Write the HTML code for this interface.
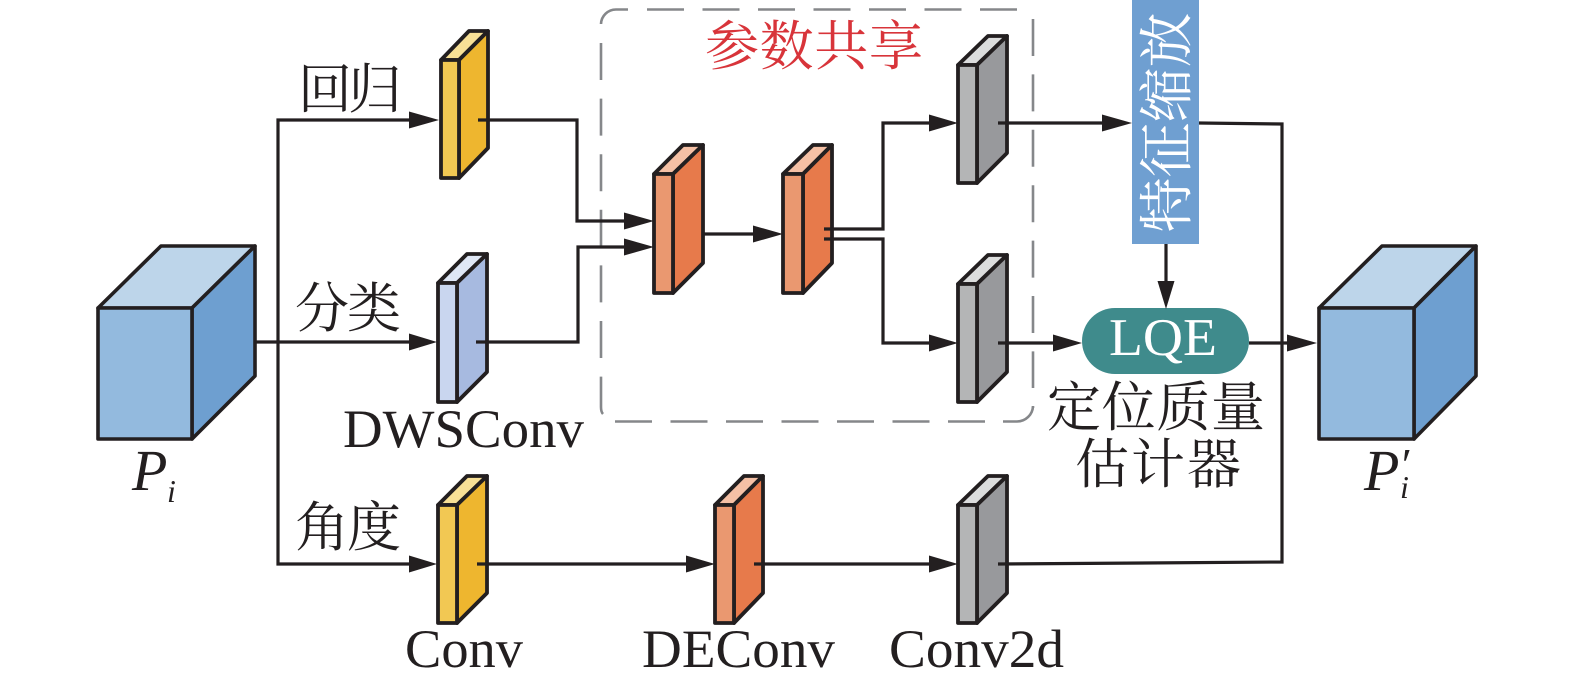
<!DOCTYPE html>
<html>
<head>
<meta charset="utf-8">
<style>
html,body{margin:0;padding:0;background:#fff;width:1575px;height:689px;overflow:hidden}
svg{display:block}
.s{font-family:"Liberation Serif","Noto Serif CJK SC",serif;fill:#231f20}
.c{font-family:"Noto Serif CJK SC","Liberation Serif",serif;fill:#231f20;font-size:54px}
</style>
</head>
<body>
<svg width="1575" height="689" viewBox="0 0 1575 689" xmlns="http://www.w3.org/2000/svg">
<rect width="1575" height="689" fill="#fff"/>

<!-- dashed frame -->
<g fill="none" stroke="#85878a" stroke-width="2.6">
<path d="M601 24 A15 15 0 0 1 616 9.5 H628"/>
<path d="M647 9.5 H1017" stroke-dasharray="37 18.5"/>
<path d="M1033 19 V388" stroke-dasharray="37 18.4"/>
<path d="M1003 421.5 H1017 A16 16 0 0 0 1033 406 V408"/>
<path d="M615 421.5 H985" stroke-dasharray="37 18.5"/>
<path d="M601 43 V377" stroke-dasharray="37 18.6"/>
<path d="M601 377 V407 Q601 412 603 414"/>
</g>

<!-- cubes -->
<g stroke="#231f20" stroke-width="3.6" stroke-linejoin="round">
<polygon points="98,308 161,246 255,246 192,308" fill="#bdd5ea"/>
<polygon points="192,308 255,246 255,376 192,439" fill="#6e9fd0"/>
<rect x="98" y="308" width="94" height="131" fill="#93bade"/>
<polygon points="1319,308 1382,246 1476,246 1414,308" fill="#bdd5ea"/>
<polygon points="1414,308 1476,246 1476,376 1414,439" fill="#6e9fd0"/>
<rect x="1319" y="308" width="95" height="131" fill="#93bade"/>
</g>

<!-- thin blocks -->
<g stroke="#231f20" stroke-width="3.8" stroke-linejoin="round">
<!-- yellow top -->
<polygon points="441,60 469,31 488,31 459,60" fill="#f8e096"/>
<polygon points="459,60 488,31 488,148 459,178" fill="#eeb62f"/>
<rect x="441" y="60" width="18" height="118" fill="#f2c853"/>
<!-- blue -->
<polygon points="438,283 467,254 487,254 457,283" fill="#dfe7f5"/>
<polygon points="457,283 487,254 487,372 457,402" fill="#a7bae0"/>
<rect x="438" y="283" width="19" height="119" fill="#c9d6ef"/>
<!-- yellow bottom -->
<polygon points="438,505 467,476 487,476 457,505" fill="#f8e096"/>
<polygon points="457,505 487,476 487,593 457,623" fill="#eeb62f"/>
<rect x="438" y="505" width="19" height="118" fill="#f2c853"/>
<!-- orange 1 -->
<polygon points="654,174 683,145 703,145 673,174" fill="#f5c0a5"/>
<polygon points="673,174 703,145 703,263 673,293" fill="#e77a4b"/>
<rect x="654" y="174" width="19" height="119" fill="#ea9870"/>
<!-- orange 2 -->
<polygon points="783,174 813,145 832,145 803,174" fill="#f5c0a5"/>
<polygon points="803,174 832,145 832,263 803,293" fill="#e77a4b"/>
<rect x="783" y="174" width="20" height="119" fill="#ea9870"/>
<!-- orange bottom -->
<polygon points="715,505 744,476 763,476 734,505" fill="#f5c0a5"/>
<polygon points="734,505 763,476 763,593 734,623" fill="#e77a4b"/>
<rect x="715" y="505" width="19" height="118" fill="#ea9870"/>
<!-- gray top -->
<polygon points="958,65 988,36 1007,36 977,65" fill="#dcdddd"/>
<polygon points="977,65 1007,36 1007,153 977,183" fill="#98999c"/>
<rect x="958" y="65" width="19" height="118" fill="#b4b5b6"/>
<!-- gray mid -->
<polygon points="958,284 988,255 1007,255 977,284" fill="#dcdddd"/>
<polygon points="977,284 1007,255 1007,372 977,402" fill="#98999c"/>
<rect x="958" y="284" width="19" height="118" fill="#b4b5b6"/>
<!-- gray bottom -->
<polygon points="958,505 988,476 1007,476 977,505" fill="#dcdddd"/>
<polygon points="977,505 1007,476 1007,593 977,623" fill="#98999c"/>
<rect x="958" y="505" width="19" height="118" fill="#b4b5b6"/>
</g>

<!-- feature bar and LQE -->
<rect x="1132" y="0" width="67" height="244" fill="#6f9fd1"/>
<rect x="1082" y="308" width="167" height="66" rx="33" fill="#3f8b8c"/>

<!-- connectors -->
<g fill="none" stroke="#231f20" stroke-width="3.2" stroke-linejoin="miter" transform="translate(0,1)">
<polyline points="412,119 278,119 278,563 412,563"/>
<line x1="255" y1="341" x2="412" y2="341"/>
<polyline points="478,119 577,119 577,220 628,220"/>
<polyline points="476,341 578,341 578,246 628,246"/>
<line x1="703" y1="233" x2="758" y2="233"/>
<polyline points="824,228 883,228 883,122 932,122"/>
<polyline points="824,238 883,238 883,342 932,342"/>
<line x1="998" y1="122" x2="1106" y2="122"/>
<line x1="998" y1="342" x2="1056" y2="342"/>
<line x1="1249" y1="342" x2="1292" y2="342"/>
<polyline points="1199,122 1282,123 1282,561 998,563"/>
<line x1="477" y1="563" x2="690" y2="563"/>
<line x1="754" y1="563" x2="932" y2="563"/>
</g>
<line x1="1166" y1="244" x2="1166" y2="282" stroke="#231f20" stroke-width="3.2"/>

<!-- arrowheads -->
<g fill="#231f20" transform="translate(0,1)">
<polygon points="409,110.5 439,119 409,127.5"/>
<polygon points="409,332.5 437,341 409,349.5"/>
<polygon points="409,554.5 437,563 409,571.5"/>
<polygon points="624,211.5 654,220 624,228.5"/>
<polygon points="624,237.5 654,246 624,254.5"/>
<polygon points="753,224.5 783,233 753,241.5"/>
<polygon points="929,113.5 958,122 929,130.5"/>
<polygon points="929,333.5 958,342 929,350.5"/>
<polygon points="929,554.5 958,563 929,571.5"/>
<polygon points="686,554.5 715,563 686,571.5"/>
<polygon points="1102,113.5 1132,122 1102,130.5"/>
<polygon points="1053,333.5 1082,342 1053,350.5"/>
<polygon points="1287,333.5 1317,342 1287,350.5"/>
</g>
<polygon points="1157.5,281 1174.5,281 1166,309" fill="#231f20"/>

<!-- Chinese labels -->
<text class="c" x="350" y="108" text-anchor="middle" textLength="104">回归</text>
<text class="c" x="348" y="327" text-anchor="middle" textLength="106">分类</text>
<text class="c" x="348" y="546" text-anchor="middle" textLength="106">角度</text>
<text class="c" x="814" y="65" text-anchor="middle" textLength="218" style="fill:#d8343a">参数共享</text>
<text class="c" x="1156" y="426" text-anchor="middle" textLength="218">定位质量</text>
<text class="c" x="1158" y="483" text-anchor="middle" textLength="166">估计器</text>
<text class="c" transform="translate(1186,122.5) rotate(-90)" text-anchor="middle" textLength="220" style="fill:#fff;font-size:55px">特征缩放</text>

<!-- Latin labels -->
<text class="s" x="1109" y="355" font-size="53" style="fill:#fff" textLength="108" lengthAdjust="spacingAndGlyphs">LQE</text>
<text class="s" x="343" y="447" font-size="54" textLength="241" lengthAdjust="spacingAndGlyphs">DWSConv</text>
<text class="s" x="405" y="667" font-size="54" textLength="118" lengthAdjust="spacingAndGlyphs">Conv</text>
<text class="s" x="642" y="667" font-size="54" textLength="193" lengthAdjust="spacingAndGlyphs">DEConv</text>
<text class="s" x="889" y="667" font-size="54" textLength="175" lengthAdjust="spacingAndGlyphs">Conv2d</text>
<text class="s" x="132" y="490" font-size="58" font-style="italic">P</text>
<text class="s" x="167" y="502" font-size="32" font-style="italic">i</text>
<text class="s" x="1364" y="490" font-size="58" font-style="italic">P</text>
<text class="s" x="1399" y="480" font-size="46" font-style="italic">′</text>
<text class="s" x="1400" y="498" font-size="32" font-style="italic">i</text>
</svg>
</body>
</html>
